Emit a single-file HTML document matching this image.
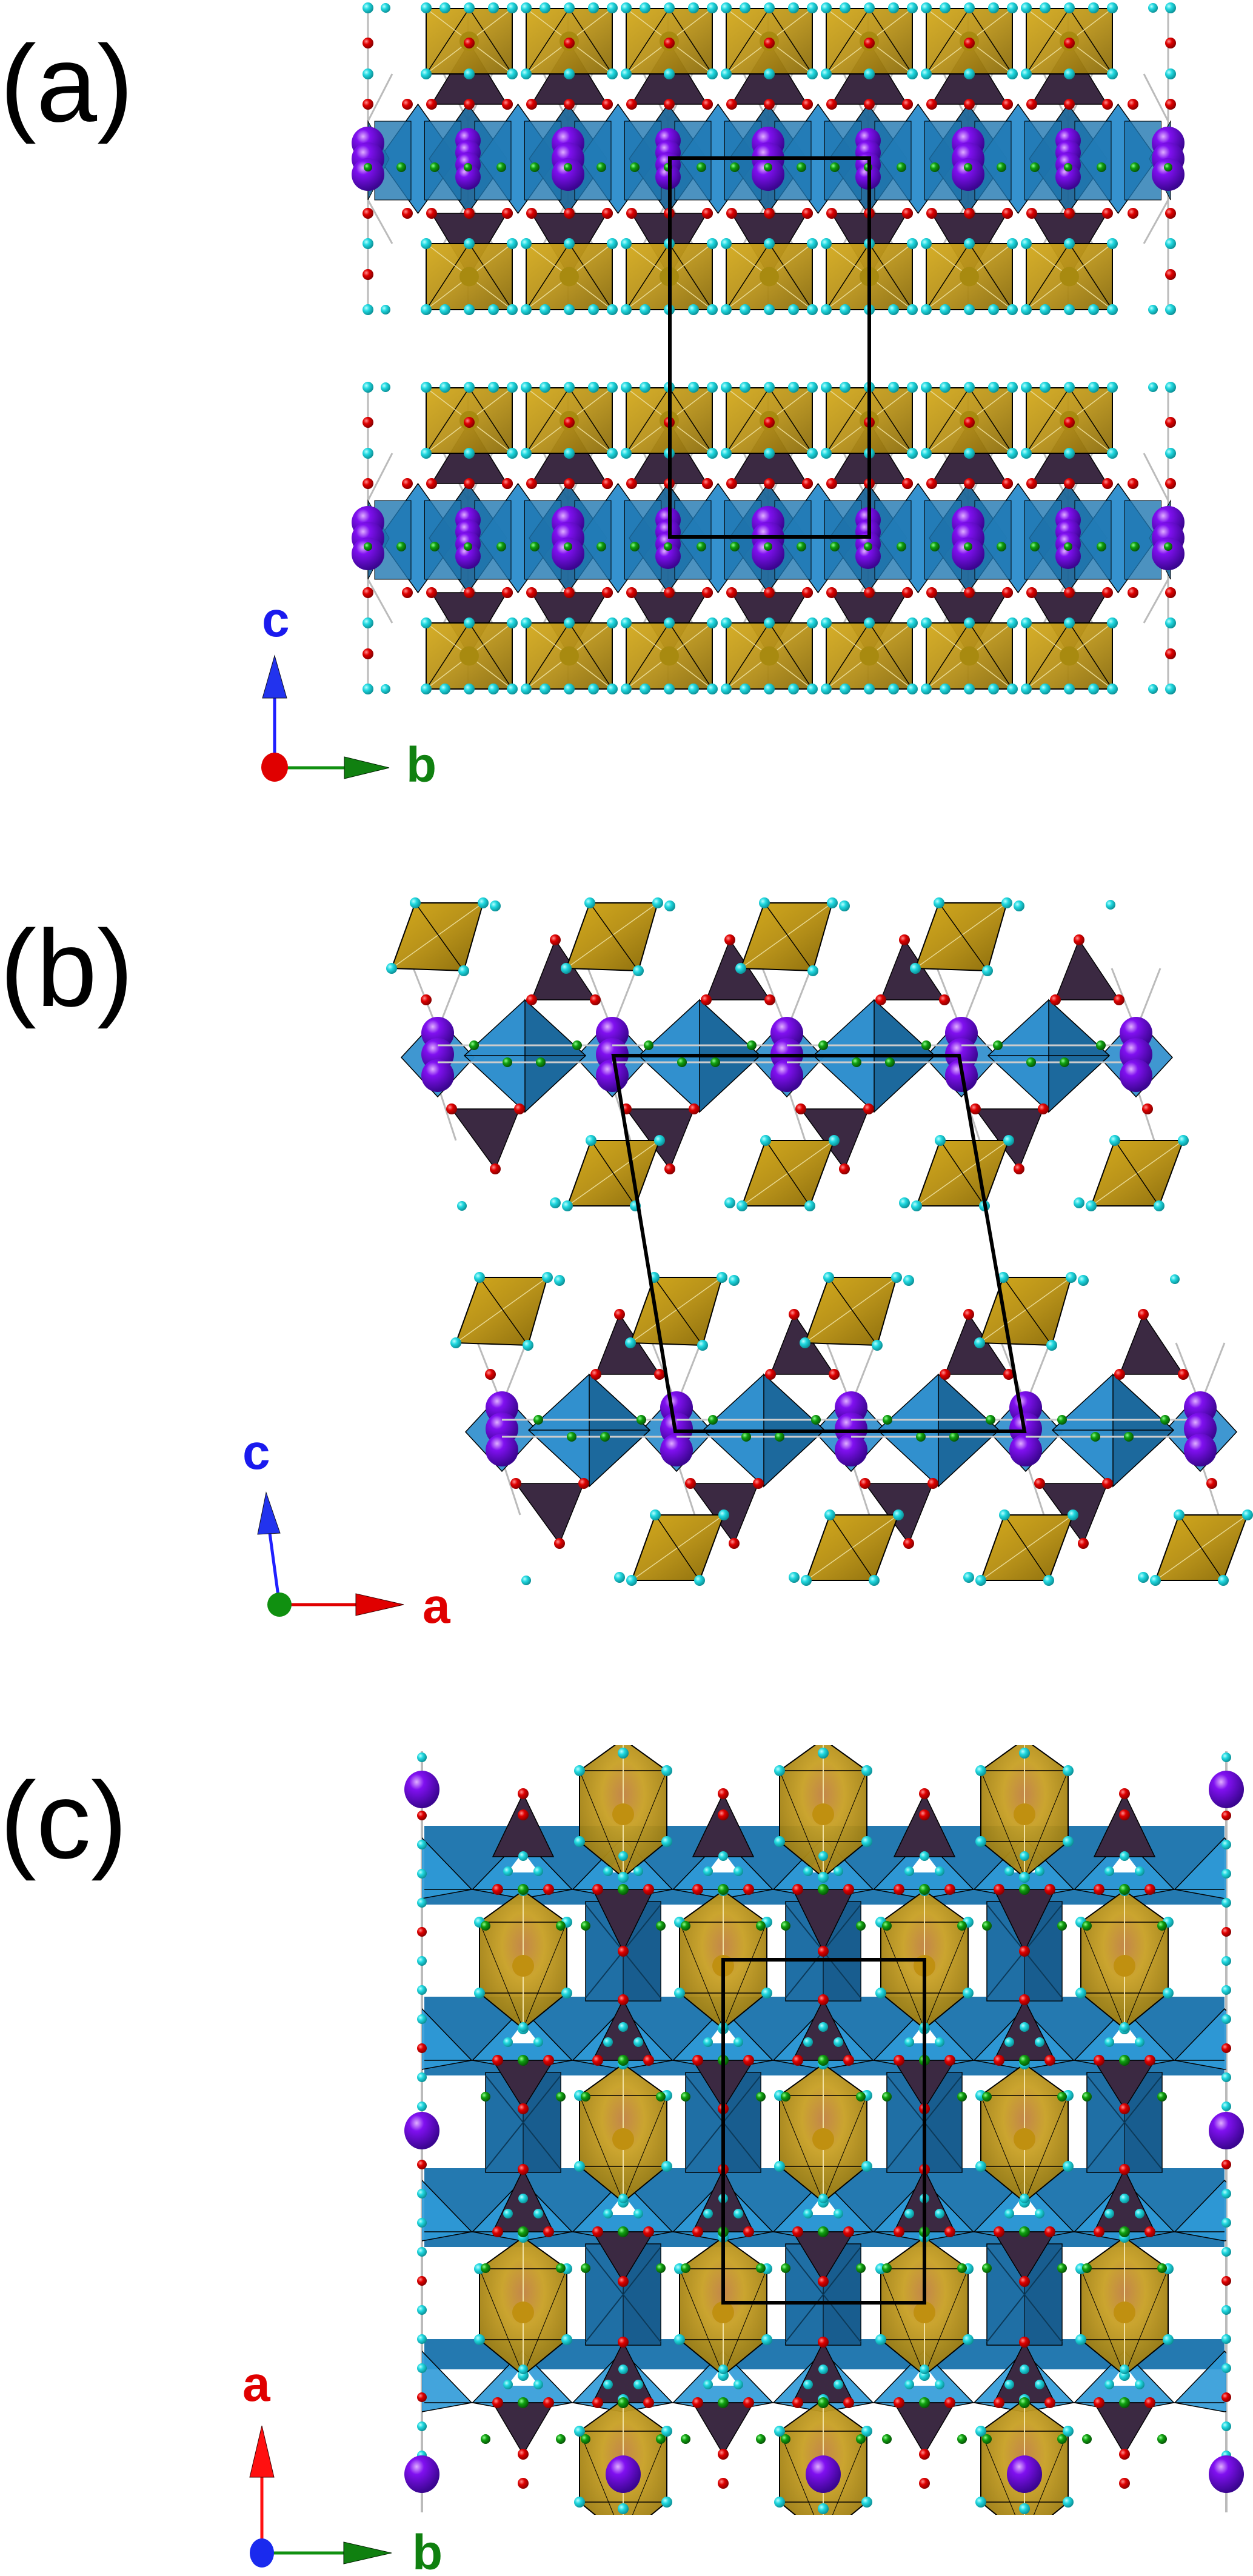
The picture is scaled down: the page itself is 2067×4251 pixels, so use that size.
<!DOCTYPE html>
<html><head><meta charset="utf-8">
<style>
html,body{margin:0;padding:0;background:#fff;}
svg{display:block;}
text{font-family:"Liberation Sans",sans-serif;}
</style></head>
<body>
<svg id="s" xmlns="http://www.w3.org/2000/svg" width="2067" height="4251" viewBox="0 0 2067 4251">
<defs>
<radialGradient id="g_c" cx="35%" cy="35%" r="70%"><stop offset="0" stop-color="#b8ffff"/><stop offset="0.4" stop-color="#20d8e0"/><stop offset="1" stop-color="#0a8a90"/></radialGradient>
<radialGradient id="g_r" cx="35%" cy="35%" r="70%"><stop offset="0" stop-color="#ff9090"/><stop offset="0.4" stop-color="#e00000"/><stop offset="1" stop-color="#800000"/></radialGradient>
<radialGradient id="g_g" cx="35%" cy="35%" r="70%"><stop offset="0" stop-color="#90ff90"/><stop offset="0.4" stop-color="#10a010"/><stop offset="1" stop-color="#055005"/></radialGradient>
<radialGradient id="g_v" cx="35%" cy="30%" r="70%"><stop offset="0" stop-color="#e0b0ff"/><stop offset="0.3" stop-color="#8010f0"/><stop offset="1" stop-color="#3a0590"/></radialGradient>
<linearGradient id="gold" x1="0" y1="0" x2="1" y2="1"><stop offset="0" stop-color="#d4aa1c"/><stop offset="0.5" stop-color="#b8921a"/><stop offset="1" stop-color="#8a6c0c"/></linearGradient>
<radialGradient id="goldc" cx="50%" cy="40%" r="60%"><stop offset="0" stop-color="#c08040"/><stop offset="0.4" stop-color="#c8a024"/><stop offset="1" stop-color="#9a7a10"/></radialGradient>
<clipPath id="cc"><rect x="696" y="2880" width="1327" height="1270"/></clipPath>
</defs>
<g id="content"></g>
<text x="0" y="200" font-size="180">(a)</text>
<text x="0" y="1660" font-size="180">(b)</text>
<text x="0" y="3066" font-size="180">(c)</text>
</svg>
<script>
const S=[];
function P(pts,fill,sw,op,stroke){S.push(`<polygon points="${pts.map(p=>p[0].toFixed(1)+','+p[1].toFixed(1)).join(' ')}" fill="${fill}" stroke="${stroke||'#000'}" stroke-width="${sw===undefined?1.5:sw}" fill-opacity="${op===undefined?1:op}"/>`);}
function D(x,y,r,c){S.push(`<circle cx="${x.toFixed(1)}" cy="${y.toFixed(1)}" r="${r}" fill="url(#g_${c})"/>`);}
function L(x1,y1,x2,y2,c,w){S.push(`<line x1="${x1}" y1="${y1}" x2="${x2}" y2="${y2}" stroke="${c}" stroke-width="${w}"/>`);}
function E(x,y,rx,ry,c){S.push(`<ellipse cx="${x}" cy="${y}" rx="${rx}" ry="${ry}" fill="url(#g_${c})"/>`);}
const TET='#3b2942', BL1='#2a8ccc', BL2='#1b6598';

/* ---------- panel (a) ---------- */
for(const o of [0,626]){
  for(let k=0;k<9;k++){const x=607+165*k;L(x,13+o,x,511+o,'#bbb',3);}
  for(let k=0;k<8;k++){const x=607+165*k;L(x,200+o,x+40,122+o,'#bbb',3);L(x+165,200+o,x+125,122+o,'#bbb',3);
    L(x,330+o,x+40,402+o,'#bbb',3);L(x+165,330+o,x+125,402+o,'#bbb',3);}
  for(let j=1;j<=15;j++){const cx=607+82.5*j;
    P([[cx,172+o],[cx+64,262+o],[cx,352+o],[cx-64,262+o]], j%2?BL1:BL2,1.5,0.95);}
  P([[607,200+o],[560+82,262+o],[607,330+o]],BL2,1,0.9);P([[1931,200+o],[1931-35,262+o],[1931,330+o]],BL2,1,0.9);
  for(let j=0;j<16;j++){const cx=648+82.5*j;
    P([[cx-30,200+o],[cx+30,200+o],[cx+30,330+o],[cx-30,330+o]], '#1f77b0',1,0.8);}
  for(let k=0;k<7;k++){const cx=774+165*k;
    P([[cx,71+o],[cx-62,172+o],[cx+62,172+o]],TET);
    P([[cx-62,352+o],[cx+62,352+o],[cx,455+o]],TET);}
  for(let k=0;k<7;k++){const cx=774+165*k;
    for(const [t,b] of [[14,122],[402,511]]){
      P([[cx-71,t+o],[cx+71,t+o],[cx+71,b+o],[cx-71,b+o]],'url(#gold)',2,0.95);
      L(cx-71,b+o,cx,t+o,'#000',1.5);L(cx+71,b+o,cx,t+o,'#000',1.5);
      L(cx-71,t+o,cx+71,b+o,'#e8d890',1.5);L(cx+71,t+o,cx-71,b+o,'#e8d890',1.5);
      S.push(`<circle cx="${cx}" cy="${(t+b)/2+o}" r="16" fill="#a88a10"/>`);
    }}
  for(let k=0;k<9;k++){const x=607+165*k;
    if(k%2==0){for(const y of [236,262,288])D(x,y+o,27,'v');}
    else{for(const y of [232,252,272,292])D(x,y+o,21,'v');}}
  for(let k=0;k<8;k++){const cx=607+165*k;D(cx+55,276+o,8,'g');D(cx+110,276+o,8,'g');}
  for(let k=0;k<9;k++)D(607+165*k,276+o,7,'g');
  for(let k=0;k<7;k++){const cx=774+165*k;
    for(const dx of [-102,-62,0,63]){D(cx+dx,172+o,9,'r');D(cx+dx,352+o,9,'r');}
    D(cx,71+o,9,'r');}
  D(1869,172+o,9,'r');D(1869,352+o,9,'r');
  for(const x of [607,1931])for(const y of [71,172,352,453])D(x,y+o,9,'r');
  for(let k=0;k<7;k++){const cx=774+165*k;
    for(const y of [13,122,402,511]){D(cx-71,y+o,9,'c');D(cx+71,y+o,9,'c');D(cx,y+o,9,'c');}
    for(const y of [13,511]){D(cx-40,y+o,9,'c');D(cx+40,y+o,9,'c');}}
  for(const x of [607,1931])for(const y of [13,122,402,511])D(x,y+o,9,'c');
  D(636,13+o,8,'c');D(636,511+o,8,'c');D(1902,13+o,8,'c');D(1902,511+o,8,'c');
}
S.push('<rect x="1105" y="261" width="329" height="625" fill="none" stroke="#000" stroke-width="6"/>');
L(453,1267,453,1150,'#2020ff',5);
P([[453,1082],[433,1152],[473,1152]],'#2233ee',1,1,'#112');
L(453,1267,570,1267,'#109010',5);
P([[642,1267],[568,1249],[568,1285]],'#108010',1,1,'#020');
S.push('<ellipse cx="453" cy="1266" rx="22" ry="24" fill="#e00000"/>');
S.push('<text x="432" y="1050" font-size="82" font-weight="bold" fill="#1a1aee">c</text>');
S.push('<text x="670" y="1290" font-size="82" font-weight="bold" fill="#108010">b</text>');

/* ---------- panel (b) ---------- */
for(const [ox,oy] of [[0,0],[106,618]]){
  const T=(p)=>p.map(q=>[q[0]+ox,q[1]+oy]);
  for(let k=0;k<5;k++){const x=722+288*k+ox;L(x-40,1598+oy,x,1700+oy,'#bbb',3);L(x+40,1598+oy,x,1700+oy,'#bbb',3);
    L(x,1790+oy,x+30,1882+oy,'#bbb',3);}
  for(let k=0;k<4;k++){const dx=288*k;
    P(T([[916+dx,1551],[877+dx,1650],[982+dx,1650]]),TET);
    P(T([[745+dx,1830],[857+dx,1830],[817+dx,1929]]),TET);}
  for(let k=0;k<5;k++){const cx=722+288*k;
    P(T([[cx,1680],[cx+60,1745],[cx,1810],[cx-60,1745]]),BL1,1.5,0.9);}
  for(let k=0;k<4;k++){const cx=866+288*k;
    P(T([[cx,1650],[cx+100,1742],[cx,1835],[cx-100,1742]]),BL1,1.5,0.97);
    P(T([[cx,1650],[cx+100,1742],[cx,1835]]),BL2,1.5,0.9);
    L(cx-100+ox,1742+oy,cx+100+ox,1742+oy,'#000',1.5);}
  for(let k=0;k<4;k++){const dx=288*k;
    const a=[[646+dx,1598],[685+dx,1490],[797+dx,1490],[765+dx,1602]];
    P(T(a),'url(#gold)',2);L(a[0][0]+ox,a[0][1]+oy,a[2][0]+ox,a[2][1]+oy,'#e8d890',1.5);L(a[1][0]+ox,a[1][1]+oy,a[3][0]+ox,a[3][1]+oy,'#000',1.5);
    const b=[[936+dx,1990],[975+dx,1882],[1088+dx,1882],[1048+dx,1990]];
    P(T(b),'url(#gold)',2);L(b[0][0]+ox,b[0][1]+oy,b[2][0]+ox,b[2][1]+oy,'#e8d890',1.5);L(b[1][0]+ox,b[1][1]+oy,b[3][0]+ox,b[3][1]+oy,'#000',1.5);
    for(const q of a.concat(b))D(q[0]+ox,q[1]+oy,9,'c');
    D(a[2][0]+ox+20,a[2][1]+oy+5,9,'c');D(b[0][0]+ox-20,b[0][1]+oy-5,9,'c');
    for(const q of [[916+dx,1551],[877+dx,1650],[982+dx,1650],[745+dx,1830],[857+dx,1830],[817+dx,1929]])D(q[0]+ox,q[1]+oy,9,'r');
  }
  for(let k=0;k<5;k++){const x=722+288*k+ox;
    for(const y of [1705,1740,1775])D(x,y+oy,27,'v');
    if(k<4){L(x,1725+oy,x+288,1725+oy,'#ccc',3);L(x,1753+oy,x+288,1753+oy,'#ccc',3);
      D(x+60,1725+oy,8,'g');D(x+230,1725+oy,8,'g');D(x+115,1753+oy,8,'g');D(x+170,1753+oy,8,'g');}}
  D(703+ox,1650+oy,9,'r');D(1893+ox,1830+oy,9,'r');D(1832+ox,1493+oy,8,'c');D(762+ox,1990+oy,8,'c');
}
P([[1012,1742],[1582,1742],[1690,2362],[1114,2362]],'none',6);
L(461,2648,445,2530,'#2020ff',5);
P([[439,2463],[425,2532],[462,2530]],'#2233ee',1,1,'#112');
L(461,2648,590,2648,'#e00000',5);
P([[666,2648],[587,2630],[587,2666]],'#e00000',1,1,'#400');
S.push('<circle cx="461" cy="2648" r="20" fill="#109010"/>');
S.push('<text x="400" y="2424" font-size="82" font-weight="bold" fill="#1a1aee">c</text>');
S.push('<text x="697" y="2678" font-size="82" font-weight="bold" fill="#e00000">a</text>');

/* ---------- panel (c) ---------- */
L(696,2890,696,4146,'#bbb',4);L(2023,2890,2023,4146,'#bbb',4);
S.push('<g clip-path="url(#cc)">');
const A=[1028,1358,1690], B=[863,1193,1525,1855];
const bands=[3118,3400,3683,3965];
// band strips
for(const by of bands){
  S.push(`<rect x="700" y="${by-105}" width="1320" height="${by==3965?50:130}" fill="#2479b0"/>`);
}
// vertical blue rectangles between bands
const gaps=[[3143,3297,A],[3425,3580,B],[3708,3865,A]];
for(const [y1,y2,cols] of gaps){for(const x of cols){
  P([[x-62,y1-5],[x+62,y1-5],[x+62,y2+5],[x-62,y2+5]],'#1f6fa5',1.5);
  P([[x,y1-5],[x+62,y1-5],[x+62,y2+5],[x,y2+5]],'#17598a',1,0.8);
  L(x-62,y1,x+62,y2,'#0c3a5a',2);L(x+62,y1,x-62,y2,'#0c3a5a',2);
}}
for(const by of bands){
  for(let x=696;x<2030;x+=165.5){P([[x,by-85],[x+82,by],[x,by+15],[x-82,by]],'#2f9ad8',1.5,0.9);}
  L(700,by,2020,by,'#000',1.5);
}
for(const by of bands){for(const x of A.concat(B)){P([[x,by-62],[x-26,by-28],[x+26,by-28]],'#fff',0);}}
const tetr=[[B,3000,3064,1],[A,3118,3200,-1],[A,3340,3400,1],[B,3400,3460,-1],[B,3620,3683,1],[A,3683,3745,-1],[A,3905,3965,1],[B,3965,4030,-1]];
for(const [cols,y1,y2,d] of tetr){for(const x of cols){
  if(d==1)P([[x,y1-40],[x-50,y2],[x+50,y2]],TET);else P([[x-50,y1],[x+50,y1],[x,y2+20]],TET);
  D(x,d==1?y1-40:y2+20,9,'r');}}
const rowsY=[2984,3234,3520,3806,4074];
rowsY.forEach((cy,i)=>{const cols=(i%2==0)?A:B;
  for(const cx of cols){
    let t=cy-114,b=cy+114;
    const pts=[[cx,t],[cx+72,cy-62],[cx+72,cy+55],[cx,b],[cx-72,cy+55],[cx-72,cy-62]];
    P(pts,'url(#goldc)',2,0.95);
    L(cx-72,cy-62,cx+72,cy-62,'#000',1.5);L(cx-72,cy+55,cx+72,cy+55,'#000',1.5);
    L(cx,t,cx,b,'#f0e0a0',2);L(cx-72,cy-62,cx,b,'#000',1);L(cx+72,cy-62,cx,b,'#000',1);
    S.push(`<circle cx="${cx}" cy="${cy+10}" r="18" fill="#c09010"/>`);
    for(const q of pts)D(q[0],q[1],9,'c');
  }});
S.push('</g>');
for(const by of bands){
  for(const x of A.concat(B)){D(x,by,9,'g');}
  for(const x of A.concat(B)){D(x-62,by+60,8,'g');D(x+62,by+60,8,'g');D(x-42,by,9,'r');D(x+42,by,9,'r');}
  for(const x of A.concat(B)){D(x-25,by-30,8,'c');D(x+25,by-30,8,'c');D(x,by-55,8,'c');}
}
for(const x of [696,2023]){
  for(let y=2900;y<4140;y+=48){D(x,y,8,(Math.round((y-2900)/48)%4==2)?'r':'c');}
}
for(const x of [696,2023])for(const y of [2953,3516,4083]){E(x,y,29,31,'v');}
for(const x of A)E(x,4083,29,31,'v');
for(const x of A){D(x,2893,9,'c');D(x,4140,9,'c');}
for(const x of B)for(const y of [2995,4098])D(x,y,9,'r');
S.push('<rect x="1193" y="3234" width="332" height="566" fill="none" stroke="#000" stroke-width="6"/>');
L(432,4213,432,4085,'#ff1010',5);
P([[432,4003],[412,4088],[452,4088]],'#ff1010',1,1,'#400');
L(432,4213,570,4213,'#109010',5);
P([[646,4213],[567,4195],[567,4231]],'#108010',1,1,'#020');
S.push('<ellipse cx="432" cy="4213" rx="20" ry="24" fill="#1a2aee"/>');
S.push('<text x="400" y="3962" font-size="82" font-weight="bold" fill="#e00000">a</text>');
S.push('<text x="680" y="4240" font-size="82" font-weight="bold" fill="#108010">b</text>');

document.getElementById('content').innerHTML=S.join('');
</script>
</body></html>
